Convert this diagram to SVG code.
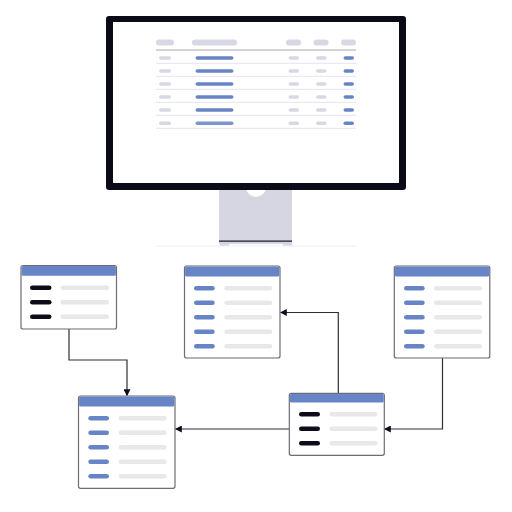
<svg xmlns="http://www.w3.org/2000/svg" width="512" height="512" viewBox="0 0 512 512">
<style>
.box{fill:#fff;stroke:#6d6d75;stroke-width:1.2}
.hdr{fill:#6684c6}
.pb{fill:#6684c6}
.pd{fill:#0d0c18}
.pl{fill:#e8e8ea}
.tg{fill:#d8d8e4}
.tb{fill:#6684c6}
.sep{stroke:#e4e4ee;stroke-width:1}
.conn{fill:none;stroke:#2e2e36;stroke-width:1.2}
</style>
<defs>
<marker id="arr" viewBox="0 0 10 10" refX="9" refY="5" markerWidth="7" markerHeight="7" markerUnits="userSpaceOnUse" orient="auto">
<path d="M0,0 L10,5 L0,10 z" fill="#0d0c18"/>
</marker>
</defs>
<rect width="512" height="512" fill="#fff"/>

<g id="monitor">
<line x1="155" y1="246" x2="356" y2="246" stroke="#eeeef2" stroke-width="1"/>
<rect x="219" y="189" width="73" height="55" fill="#d6d6e3"/>
<rect x="220" y="243" width="9" height="2.5" fill="#d6d6e3"/>
<rect x="283" y="243" width="9" height="2.5" fill="#d6d6e3"/>
<line x1="219" y1="241.2" x2="292" y2="241.2" stroke="#1a1a26" stroke-width="1.3"/>
<circle cx="256" cy="187" r="10" fill="#fff"/>
<rect x="106" y="16" width="300" height="174" rx="3" fill="#0b0a17"/>
<rect x="113" y="22" width="286" height="161" fill="#fff"/>
<g class="tg">
<rect x="156" y="39.5" width="18" height="6" rx="3"/>
<rect x="192" y="39.5" width="45" height="6" rx="3"/>
<rect x="286" y="39.5" width="15" height="6" rx="3"/>
<rect x="313.5" y="39.5" width="15" height="6" rx="3"/>
<rect x="341" y="39.5" width="15" height="6" rx="3"/>
</g>
<line x1="156" y1="50" x2="356" y2="50" stroke="#c4c4c8" stroke-width="1.5"/>
<g id="rows">
<line class="sep" x1="156" y1="63.3" x2="356" y2="63.3"/>
<line class="sep" x1="156" y1="76.3" x2="356" y2="76.3"/>
<line class="sep" x1="156" y1="89.3" x2="356" y2="89.3"/>
<line class="sep" x1="156" y1="102.3" x2="356" y2="102.3"/>
<line class="sep" x1="156" y1="115.3" x2="356" y2="115.3"/>
<line class="sep" x1="156" y1="128.3" x2="356" y2="128.3"/>
<g class="tg">
<rect x="159" y="56.2" width="12" height="3.6" rx="1.8"/><rect x="288.5" y="56.2" width="10.5" height="3.6" rx="1.8"/><rect x="316" y="56.2" width="10.5" height="3.6" rx="1.8"/>
<rect x="159" y="69.2" width="12" height="3.6" rx="1.8"/><rect x="288.5" y="69.2" width="10.5" height="3.6" rx="1.8"/><rect x="316" y="69.2" width="10.5" height="3.6" rx="1.8"/>
<rect x="159" y="82.2" width="12" height="3.6" rx="1.8"/><rect x="288.5" y="82.2" width="10.5" height="3.6" rx="1.8"/><rect x="316" y="82.2" width="10.5" height="3.6" rx="1.8"/>
<rect x="159" y="95.2" width="12" height="3.6" rx="1.8"/><rect x="288.5" y="95.2" width="10.5" height="3.6" rx="1.8"/><rect x="316" y="95.2" width="10.5" height="3.6" rx="1.8"/>
<rect x="159" y="108.2" width="12" height="3.6" rx="1.8"/><rect x="288.5" y="108.2" width="10.5" height="3.6" rx="1.8"/><rect x="316" y="108.2" width="10.5" height="3.6" rx="1.8"/>
<rect x="159" y="121.4" width="12" height="3.6" rx="1.8"/><rect x="288.5" y="121.4" width="10.5" height="3.6" rx="1.8"/><rect x="316" y="121.4" width="10.5" height="3.6" rx="1.8"/>
</g>
<g class="tb">
<rect x="195.5" y="56.2" width="38" height="3.6" rx="1.8"/><rect x="343.5" y="56.2" width="10.5" height="3.6" rx="1.8"/>
<rect x="195.5" y="69.2" width="38" height="3.6" rx="1.8"/><rect x="343.5" y="69.2" width="10.5" height="3.6" rx="1.8"/>
<rect x="195.5" y="82.2" width="38" height="3.6" rx="1.8"/><rect x="343.5" y="82.2" width="10.5" height="3.6" rx="1.8"/>
<rect x="195.5" y="95.2" width="38" height="3.6" rx="1.8"/><rect x="343.5" y="95.2" width="10.5" height="3.6" rx="1.8"/>
<rect x="195.5" y="108.2" width="38" height="3.6" rx="1.8"/><rect x="343.5" y="108.2" width="10.5" height="3.6" rx="1.8"/>
<rect x="195.5" y="121.4" width="38" height="3.6" rx="1.8" opacity="0.85"/><rect x="343.5" y="121.4" width="10.5" height="3.6" rx="1.8"/>
</g>
</g>
</g>

<g id="connectors">
<path class="conn" d="M69,329 V360 H127 V395.5" marker-end="url(#arr)"/>
<path class="conn" d="M338.3,393 V312.5 H280.5" marker-end="url(#arr)"/>
<path class="conn" d="M289,429 H175.5" marker-end="url(#arr)"/>
<path class="conn" d="M442.5,358 V429 H384.5" marker-end="url(#arr)"/>
</g>

<g id="node1">
<rect class="box" x="21" y="265.5" width="95.5" height="63.5" rx="2"/>
<rect class="hdr" x="21.6" y="266.1" width="94.3" height="9.6" rx="1.5"/>
<rect class="pd" x="30" y="285.5" width="21.5" height="4.6" rx="2.3"/>
<rect class="pd" x="30" y="300" width="21.5" height="4.6" rx="2.3"/>
<rect class="pd" x="30" y="314.5" width="21.5" height="4.6" rx="2.3"/>
<rect class="pl" x="60.5" y="285.5" width="48.5" height="4.6" rx="2.3"/>
<rect class="pl" x="60.5" y="300" width="48.5" height="4.6" rx="2.3"/>
<rect class="pl" x="60.5" y="314.5" width="48.5" height="4.6" rx="2.3"/>
</g>

<g id="node2">
<rect class="box" x="184.5" y="266" width="95.5" height="92" rx="2"/>
<rect class="hdr" x="185.1" y="266.6" width="94.3" height="10" rx="1.5"/>
<rect class="pb" x="194" y="286" width="20.7" height="4.6" rx="2.3"/>
<rect class="pb" x="194" y="300.5" width="20.7" height="4.6" rx="2.3"/>
<rect class="pb" x="194" y="315" width="20.7" height="4.6" rx="2.3"/>
<rect class="pb" x="194" y="329.5" width="20.7" height="4.6" rx="2.3"/>
<rect class="pb" x="194" y="344" width="20.7" height="4.6" rx="2.3"/>
<rect class="pl" x="224.3" y="286" width="48" height="4.6" rx="2.3"/>
<rect class="pl" x="224.3" y="300.5" width="48" height="4.6" rx="2.3"/>
<rect class="pl" x="224.3" y="315" width="48" height="4.6" rx="2.3"/>
<rect class="pl" x="224.3" y="329.5" width="48" height="4.6" rx="2.3"/>
<rect class="pl" x="224.3" y="344" width="48" height="4.6" rx="2.3"/>
</g>

<g id="node5">
<rect class="box" x="394.3" y="266" width="95.5" height="92" rx="2"/>
<rect class="hdr" x="394.9" y="266.6" width="94.3" height="10" rx="1.5"/>
<rect class="pb" x="404" y="286" width="20.7" height="4.6" rx="2.3"/>
<rect class="pb" x="404" y="300.5" width="20.7" height="4.6" rx="2.3"/>
<rect class="pb" x="404" y="315" width="20.7" height="4.6" rx="2.3"/>
<rect class="pb" x="404" y="329.5" width="20.7" height="4.6" rx="2.3"/>
<rect class="pb" x="404" y="344" width="20.7" height="4.6" rx="2.3"/>
<rect class="pl" x="434" y="286" width="48" height="4.6" rx="2.3"/>
<rect class="pl" x="434" y="300.5" width="48" height="4.6" rx="2.3"/>
<rect class="pl" x="434" y="315" width="48" height="4.6" rx="2.3"/>
<rect class="pl" x="434" y="329.5" width="48" height="4.6" rx="2.3"/>
<rect class="pl" x="434" y="344" width="48" height="4.6" rx="2.3"/>
</g>

<g id="node3">
<rect class="box" x="289.3" y="393.3" width="95" height="62" rx="2"/>
<rect class="hdr" x="289.9" y="393.9" width="93.8" height="8.6" rx="1.5"/>
<rect class="pd" x="299" y="412" width="21" height="4.6" rx="2.3"/>
<rect class="pd" x="299" y="426.5" width="21" height="4.6" rx="2.3"/>
<rect class="pd" x="299" y="441" width="21" height="4.6" rx="2.3"/>
<rect class="pl" x="329.3" y="412" width="48" height="4.6" rx="2.3"/>
<rect class="pl" x="329.3" y="426.5" width="48" height="4.6" rx="2.3"/>
<rect class="pl" x="329.3" y="441" width="48" height="4.6" rx="2.3"/>
</g>

<g id="node4">
<rect class="box" x="78.5" y="396" width="96.5" height="92.3" rx="2"/>
<rect class="hdr" x="79.1" y="396.6" width="95.3" height="10" rx="1.5"/>
<rect class="pb" x="88.3" y="416" width="20.7" height="4.6" rx="2.3"/>
<rect class="pb" x="88.3" y="430.5" width="20.7" height="4.6" rx="2.3"/>
<rect class="pb" x="88.3" y="445" width="20.7" height="4.6" rx="2.3"/>
<rect class="pb" x="88.3" y="459.5" width="20.7" height="4.6" rx="2.3"/>
<rect class="pb" x="88.3" y="474" width="20.7" height="4.6" rx="2.3"/>
<rect class="pl" x="118.7" y="416" width="48" height="4.6" rx="2.3"/>
<rect class="pl" x="118.7" y="430.5" width="48" height="4.6" rx="2.3"/>
<rect class="pl" x="118.7" y="445" width="48" height="4.6" rx="2.3"/>
<rect class="pl" x="118.7" y="459.5" width="48" height="4.6" rx="2.3"/>
<rect class="pl" x="118.7" y="474" width="48" height="4.6" rx="2.3"/>
</g>
</svg>
